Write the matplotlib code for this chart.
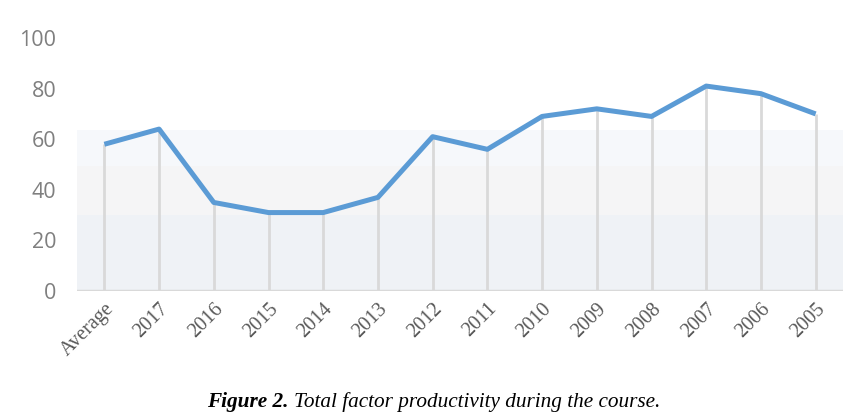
import matplotlib
matplotlib.use("Agg")
import matplotlib.pyplot as plt
import numpy as np

categories = ["Average", "2017", "2016", "2015", "2014", "2013", "2012", "2011",
              "2010", "2009", "2008", "2007", "2006", "2005"]
values = [58, 64, 35, 31, 31, 37, 61, 56, 69, 72, 69, 81, 78, 70]
yticks = [0, 20, 40, 60, 80, 100]
bands = [(0, 30, "#eff2f6"), (30, 49.5, "#f5f5f6"), (49.5, 63.6, "#f6f8fb")]

fig = plt.figure(figsize=(8.58, 4.19), dpi=100)
ax = fig.add_axes([77/858, 1-291/419, (843-77)/858, (291-38)/419])
x = np.arange(len(categories))
ax.set_xlim(-0.5, len(categories)-0.5)
ax.set_ylim(0, 100)

for lo, hi, c in bands:
    ax.axhspan(lo, hi, color=c, zorder=0, lw=0)

ax.vlines(x, 0, values, colors="#d9d9d9", lw=2, zorder=1)
ax.plot(x, values, color="#5b9bd5", lw=3.6, solid_capstyle="butt", solid_joinstyle="round", zorder=3)
ax.axhline(0, color="#d9d9d9", lw=2.5, zorder=2)

for s in ax.spines.values():
    s.set_visible(False)
ax.set_yticks(yticks)
ax.set_yticklabels([str(t) for t in yticks], fontsize=15.5, color="#7f7f7f",
                   family=["Open Sans", "DejaVu Sans"])
ax.tick_params(axis="y", length=0, pad=15)
ax.set_xticks(x)
ax.set_xticklabels(categories, rotation=45, ha="right", rotation_mode="anchor",
                   fontsize=14.5, color="#595959", family=["Liberation Serif"])
ax.tick_params(axis="x", length=0, pad=6)

t1 = fig.text(207/858, 1-402/419, "Figure 2.", fontsize=15.3, family="Liberation Serif",
              style="italic", weight="bold", ha="left", va="center")
fig.canvas.draw()
bb = t1.get_window_extent()
fig.text(bb.x1/858 + 5/858, 1-402/419, "Total factor productivity during the course.",
         fontsize=15.3, family="Liberation Serif", style="italic", ha="left", va="center")

fig.savefig("out.png", dpi=100)
